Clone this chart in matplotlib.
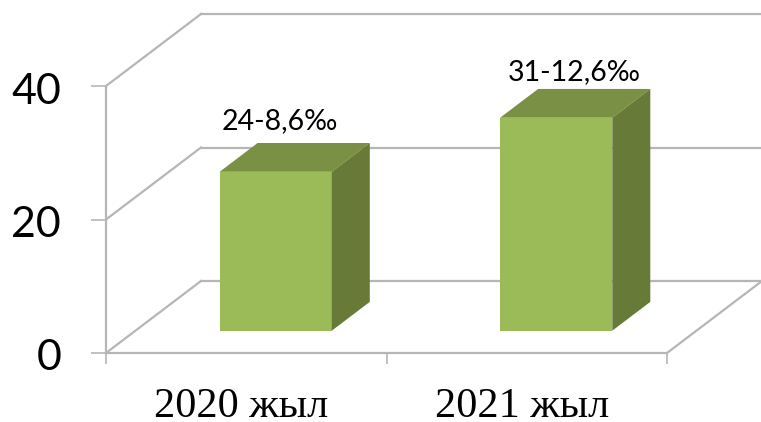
"""Pseudo 3D column chart drawn on a flat matplotlib axes."""
import matplotlib
matplotlib.use("Agg")
import matplotlib.pyplot as plt
from matplotlib.patches import Polygon
from matplotlib.transforms import Affine2D, IdentityTransform

categories = ["2020 жыл", "2021 жыл"]
values = [23.8, 31.9]
bar_labels = ["24-8,6‰", "31-12,6‰"]
y_ticks = [0, 20, 40]

W, H = 761, 422
DEPTH_X, DEPTH_Y = 95, 72  # pixel shift from the front plane to the back wall
BAR_FRONT, BAR_BACK = 0.31, 0.71
BAR_WIDTH = 0.4
GREY = "#b6b6b6"
FRONT, TOP, SIDE = "#9bbb59", "#7a9045", "#677a37"

fig = plt.figure(figsize=(W / 100, H / 100), dpi=100)
ax = fig.add_axes([106 / W, (H - 353) / H, 561 / W, 267 / H])
ax.set_xlim(-0.5, 1.5)
ax.set_ylim(0, 40)


def project(x, y, depth):
    px, py = ax.transData.transform((x, y))
    return px + DEPTH_X * depth, py + DEPTH_Y * depth


def wall_line(p0, p1):
    (x0, y0), (x1, y1) = p0, p1
    ax.plot([x0, x1], [y0, y1], color=GREY, lw=1.6, transform=IdentityTransform(),
            clip_on=False, zorder=1, solid_capstyle="projecting")


# back wall and left wall
for tick in y_ticks:
    wall_line(project(-0.5, tick, 0), project(-0.5, tick, 1))
    wall_line(project(-0.5, tick, 1), project(1.5, tick, 1))
wall_line(project(1.5, 0, 0), project(1.5, 0, 1))

# columns: the front face is a real bar, shifted back by the depth transform
shift = Affine2D().translate(DEPTH_X * BAR_FRONT, DEPTH_Y * BAR_FRONT)
ax.bar(range(len(values)), values, BAR_WIDTH, color=FRONT, zorder=3, clip_on=False,
       transform=ax.transData + shift)
for i, v in enumerate(values):
    left, right = i - BAR_WIDTH / 2, i + BAR_WIDTH / 2
    top = [project(left, v, BAR_FRONT), project(right, v, BAR_FRONT),
           project(right, v, BAR_BACK), project(left, v, BAR_BACK)]
    side = [project(right, 0, BAR_FRONT), project(right, v, BAR_FRONT),
            project(right, v, BAR_BACK), project(right, 0, BAR_BACK)]
    ax.add_patch(Polygon(top, color=TOP, lw=0, transform=IdentityTransform(), zorder=3, clip_on=False))
    ax.add_patch(Polygon(side, color=SIDE, lw=0, transform=IdentityTransform(), zorder=3, clip_on=False))

# data labels
label_offsets = [(4.5, 43), (18, 38)]
for i, (v, text, off) in enumerate(zip(values, bar_labels, label_offsets)):
    ax.annotate(text, (i, v), xycoords=ax.transData + shift, xytext=off,
                textcoords="offset pixels", ha="center", va="baseline",
                fontsize=20.5, family="Lato", color="black", annotation_clip=False)

# axes
for name in ("top", "right"):
    ax.spines[name].set_visible(False)
for name in ("left", "bottom"):
    ax.spines[name].set_color(GREY)
    ax.spines[name].set_linewidth(1.6)
ax.patch.set_visible(False)

ax.set_yticks(y_ticks)
ax.tick_params(axis="y", length=10.8, width=1.2, color=GREY, pad=21.5, labelsize=31)
for lab in ax.get_yticklabels():
    lab.set_family("Lato")
    lab.set_transform(lab.get_transform() + Affine2D().translate(0, -2))

ax.set_xticks([0, 1], categories)
ax.set_xticks([-0.5, 0.5, 1.5], minor=True)
ax.tick_params(axis="x", which="major", length=0, pad=24.5, labelsize=30.5)
ax.tick_params(axis="x", which="minor", length=8, width=1.2, color=GREY)
for lab in ax.get_xticklabels():
    lab.set_family("Liberation Serif")
    lab.set_transform(lab.get_transform() + Affine2D().translate(-5, 0))

fig.savefig("out.png", dpi=100)
